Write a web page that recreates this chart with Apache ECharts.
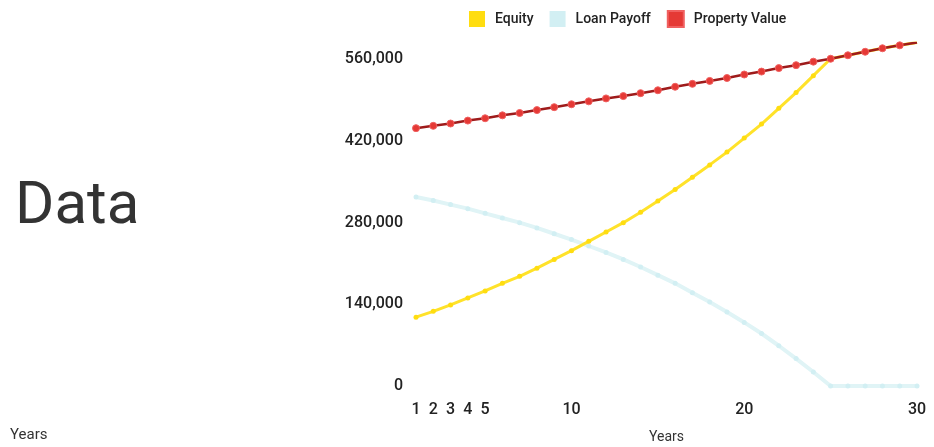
<!DOCTYPE html>
<html>
<head>
<meta charset="utf-8">
<script src="https://cdn.jsdelivr.net/npm/echarts@6/dist/echarts.min.js"></script>
<style>
  html, body { margin: 0; padding: 0; background: #fff; }
  #chart { width: 934px; height: 447px; }
</style>
</head>
<body>
<div id="chart"></div>
<script>
// years 1..30
const years = Array.from({ length: 30 }, (_, i) => String(i + 1));
const shownYears = ["1", "2", "3", "4", "5", "10", "20", "30"];

// values
const propertyValue = [442000, 446000, 450000, 455000, 459000, 464000, 468000, 473000, 478000, 483000,
  488000, 493000, 497000, 502000, 507000, 513000, 518000, 523000, 528000, 534000,
  539000, 545000, 550000, 556000, 561000, 567000, 573000, 579000, 584000, 589000];
const loanPayoff = [324000, 318000, 311000, 304000, 296000, 288000, 280000, 271000, 261000, 251000,
  240000, 229000, 217000, 204000, 190000, 176000, 160000, 144000, 127000, 109000,
  90000, 69000, 47000, 24000, 0, 0, 0, 0, 0, 0];
const equity = [118000, 128000, 139000, 151000, 163000, 176000, 188000, 202000, 217000, 232000,
  248000, 264000, 280000, 298000, 317000, 337000, 358000, 379000, 401000, 425000,
  449000, 476000, 503000, 532000, 561000, 567000, 573000, 579000, 584000, 589000];

const chart = echarts.init(document.getElementById("chart"));

chart.setOption({
  animation: false,
  textStyle: { fontFamily: "Roboto" },
  graphic: [
    {
      type: "text",
      left: 15,
      top: 178,
      style: { text: "Data", fontSize: 60, fill: "#333", fontFamily: "Roboto" }
    },
    {
      type: "text",
      left: 10,
      top: 428,
      style: { text: "Years", fontSize: 15, fill: "#333", fontFamily: "Roboto" }
    }
  ],
  legend: {
    left: 464,
    top: 5,
    icon: "rect",
    itemWidth: 16,
    itemHeight: 16,
    itemGap: 16,
    textStyle: { fontSize: 14, fontWeight: 500, color: "#222", padding: [0, 0, 0, 5] },
    data: ["Equity", "Loan Payoff", "Property Value"]
  },
  grid: { left: 416, right: 17, top: 43, bottom: 61, outerBoundsMode: "none" },
  xAxis: {
    type: "category",
    data: years,
    boundaryGap: false,
    name: "Years",
    nameLocation: "middle",
    nameGap: 44,
    nameTextStyle: { fontSize: 14, color: "#333" },
    axisLine: { show: false },
    axisTick: { show: false },
    axisLabel: {
      interval: (i, v) => shownYears.includes(v),
      margin: 16,
      fontSize: 16,
      fontWeight: 500,
      color: "#222"
    }
  },
  yAxis: {
    type: "value",
    min: 0,
    max: 588000,
    interval: 140000,
    axisLine: { show: false },
    axisTick: { show: false },
    splitLine: { show: false },
    axisLabel: {
      showMaxLabel: false,
      margin: 13,
      fontSize: 16,
      fontWeight: 500,
      color: "#222",
      formatter: (v) => v.toLocaleString("en-US")
    }
  },
  series: [
    {
      name: "Equity",
      type: "line",
      data: equity,
      color: "#ffe22a",
      symbol: "circle",
      symbolSize: 5,
      lineStyle: { width: 3, color: "#ffe22a" },
      itemStyle: { color: "#ffdd10" },
      z: 3
    },
    {
      name: "Loan Payoff",
      type: "line",
      data: loanPayoff,
      color: "#d6f1f4",
      symbol: "circle",
      symbolSize: 5,
      lineStyle: { width: 4, color: "#e0f4f6" },
      itemStyle: { color: "#d2eff3" },
      z: 2
    },
    {
      name: "Property Value",
      type: "line",
      data: propertyValue,
      color: "#d8312f",
      symbol: "circle",
      symbolSize: 7,
      lineStyle: { width: 2.5, color: "#9e1b1b" },
      itemStyle: { color: "#e53935", borderColor: "#f06060", borderWidth: 1 },
      z: 4
    }
  ]
});
</script>
</body>
</html>
